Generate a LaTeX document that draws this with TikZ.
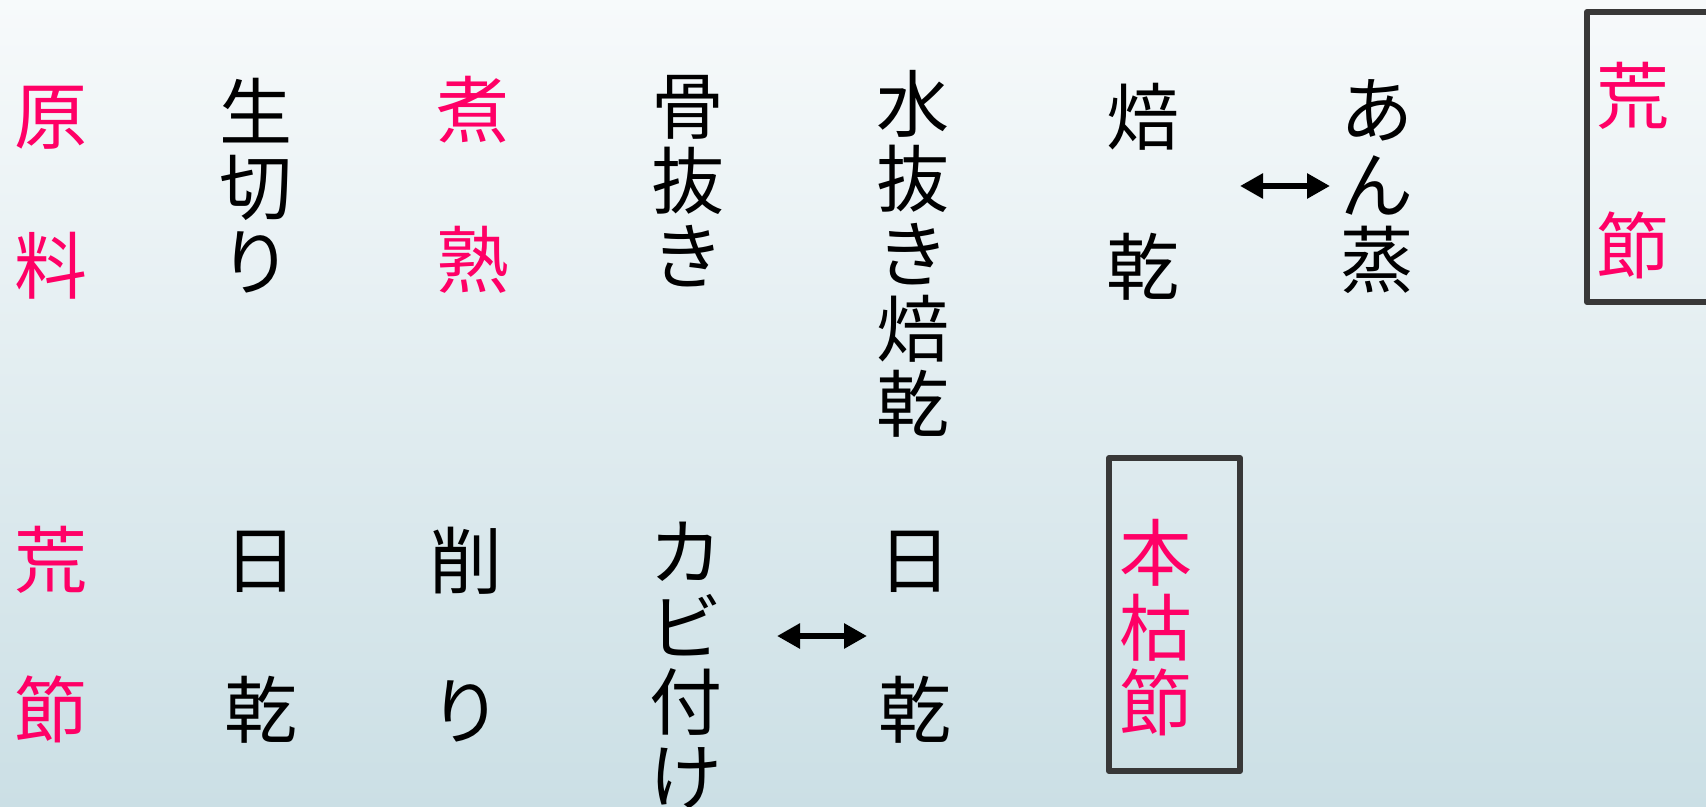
\documentclass[tikz,border=0pt]{standalone}
\usepackage{fontspec}
\newfontfamily\cjk{Noto Sans CJK JP}
\usetikzlibrary{arrows.meta}
\definecolor{bgtop}{HTML}{F7FAFB}
\definecolor{bgbot}{HTML}{CBDFE5}
\definecolor{pinktxt}{HTML}{FF0066}
\definecolor{boxgray}{HTML}{383838}
\tikzset{
  lbl/.style={inner sep=0pt, outer sep=0pt, align=center, text=black,
    font=\cjk\fontsize{36.5pt}{37.5pt}\selectfont},
  pinklbl/.style={lbl, text=pinktxt},
  framebox/.style={draw=boxgray, line width=3pt, line join=round},
  biarrow/.style={line width=3.4pt,
    {Triangle[length=11.5pt,width=12pt]}-{Triangle[length=11.5pt,width=12pt]}}
}
\begin{document}
\begin{tikzpicture}[x=0.5pt,y=-0.5pt]
\useasboundingbox (0,0) rectangle (1706,807);
\clip (0,0) rectangle (1706,807);
\shade[top color=bgtop, bottom color=bgbot] (0,0) rectangle (1706,807);
% top row
\node[pinklbl] (genryo) at (51,192.5) {原\\[37.5pt]料};
\node[lbl] (namagiri) at (256,185.5) {生\\切\\り};
\node[pinklbl] (shajuku) at (473,184.5) {煮\\[37.5pt]熟};
\node[lbl] (honenuki) at (688,181) {骨\\抜\\き};
\node[lbl] (mizunuki) at (913,253.5) {水\\抜\\き\\焙\\乾};
\node[lbl] (baikan) at (1143,191.5) {焙\\[37.5pt]乾};
\node[lbl] (anjo) at (1377,186.5) {あ\\ん\\蒸};
\node[pinklbl] (arabushiA) at (1633,170.5) {荒\\[37.5pt]節};
\draw[framebox] (1720,12) -- (1587,12) -- (1587,302) -- (1720,302);
\coordinate (a1) at (1240,186);
\coordinate (a2) at (1330,186);
\draw[biarrow] (a1) -- (a2);
% bottom row
\node[pinklbl] (arabushiB) at (51,634.5) {荒\\[37.5pt]節};
\node[lbl] (nikkanA) at (261,637) {日\\[37.5pt]乾};
\node[lbl] (kezuri) at (466,635) {削\\[37.5pt]り};
\node[lbl] (kabi) at (686,665) {カ\\ビ\\付\\け};
\node[lbl] (nikkanB) at (915,637) {日\\[37.5pt]乾};
\node[pinklbl] (honkare) at (1156,627.5) {本\\枯\\節};
\draw[framebox] (1109,458) rectangle (1240,771);
\coordinate (b1) at (777,636);
\coordinate (b2) at (867,636);
\draw[biarrow] (b1) -- (b2);
\end{tikzpicture}
\end{document}
